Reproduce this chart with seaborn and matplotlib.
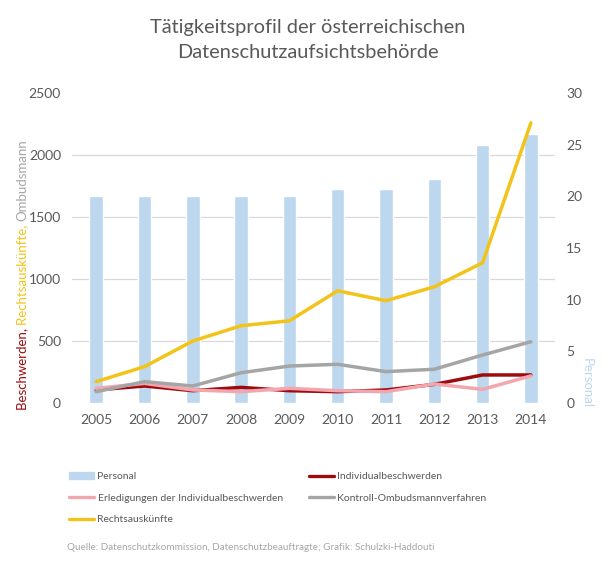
import numpy as np
import pandas as pd
import matplotlib
matplotlib.use("Agg")
import matplotlib.pyplot as plt
import seaborn as sns
from matplotlib.patches import Patch
from matplotlib.lines import Line2D

years = ["2005", "2006", "2007", "2008", "2009", "2010", "2011", "2012", "2013", "2014"]
personal = [20, 20, 20, 20, 20, 20.7, 20.7, 21.7, 25, 26]
individualbeschwerden = [105, 137, 99, 126, 99, 91, 105, 150, 226, 226]
erledigungen = [118, 158, 105, 91, 118, 99, 91, 153, 110, 218]
kontroll = [91, 172, 137, 244, 298, 312, 253, 272, 387, 494]
rechtsauskuenfte = [172, 293, 500, 623, 663, 905, 825, 937, 1131, 2259]

series_names = ["Individualbeschwerden", "Erledigungen der Individualbeschwerden",
                "Kontroll-Ombudsmannverfahren", "Rechtsauskünfte"]
series_colors = ["#9E0B0F", "#F4A6AE", "#A5A5A5", "#F2C318"]

sns.set_theme(style="white")
plt.rcParams['font.family'] = ['Lato', 'DejaVu Sans']

txt = "#595959"
fig = plt.figure(figsize=(6.16, 5.64), dpi=100)
ax = fig.add_axes([0.117, 0.2855, 0.784, 0.5495])
ax2 = ax.twinx()

# bars on the right axis, behind the lines
bars = pd.DataFrame({"Jahr": years, "Personal": personal})
sns.barplot(data=bars, x="Jahr", y="Personal", color="#BDD7EE", width=0.28,
            saturation=1, ax=ax2)
ax2.set_ylim(0, 30)
ax2.set_yticks(range(0, 31, 5))
ax2.set_yticks(np.linspace(0, 30, 6), minor=True)
ax2.grid(which="minor", axis="y", color="#D9D9D9", linewidth=0.9)
ax2.grid(which="major", visible=False)
ax2.set_axisbelow(True)
ax2.tick_params(which="both", length=0, labelsize=10, labelcolor=txt, pad=8)
ax2.set_ylabel("")
ax2.set_xlabel("")

lines = pd.DataFrame({"Jahr": years * 4,
                      "Wert": individualbeschwerden + erledigungen + kontroll + rechtsauskuenfte,
                      "Reihe": np.repeat(series_names, len(years))})
ax.set_zorder(ax2.get_zorder() + 1)
ax.patch.set_visible(False)
sns.lineplot(data=lines, x="Jahr", y="Wert", hue="Reihe", hue_order=series_names,
             palette=series_colors, linewidth=2.5, ax=ax, legend=False, sort=False)
ax.set_ylim(0, 2500)
ax.set_yticks(range(0, 2501, 500))
ax.set_xlim(-0.5, len(years) - 0.5)
ax.grid(False)
ax.tick_params(length=0, labelsize=10, labelcolor=txt, pad=8)
ax.set_xlabel("")
ax.set_ylabel("")
for a in (ax, ax2):
    for s in a.spines.values():
        s.set_visible(False)

# multicoloured left axis label, built bottom to top
fig.canvas.draw()
r = fig.canvas.get_renderer()
y0 = 564 - 410
for part, col in [("Beschwerden, ", "#9E0B0F"), ("Rechtsauskünfte, ", "#F2C318"),
                  ("Ombudsmann", "#A5A5A5")]:
    t = fig.text(22 / 616, y0 / 564, part, rotation=90, color=col, fontsize=9.5,
                 ha="left", va="center", rotation_mode="anchor")
    bb = t.get_window_extent(r)
    y0 += bb.height
fig.text(587 / 616, 1 - 358 / 564, "Personal", rotation=270, color="#BDD7EE",
         fontsize=9.5, ha="center", va="top")

fig.text(0.5, 1 - 27 / 564, "Tätigkeitsprofil der österreichischen", ha="center",
         va="center", fontsize=14.4, color=txt)
fig.text(0.5, 1 - 53 / 564, "Datenschutzaufsichtsbehörde", ha="center",
         va="center", fontsize=14.4, color=txt)

h = {"Personal": Patch(color="#BDD7EE")}
for n, c in zip(series_names, series_colors):
    h[n] = Line2D([], [], color=c, linewidth=2.4)
order = ["Personal", "Erledigungen der Individualbeschwerden", "Rechtsauskünfte",
         "Individualbeschwerden", "Kontroll-Ombudsmannverfahren"]
leg = fig.legend([h[k] for k in order], order, loc="upper left",
                 bbox_to_anchor=(60 / 616, 1 - 463 / 564), ncol=2, frameon=False,
                 fontsize=7.5, handlelength=2.4, handleheight=0.6, handletextpad=0.3,
                 columnspacing=2.5, labelspacing=1.2)
for t in leg.get_texts():
    t.set_color(txt)

fig.text(67 / 616, 1 - 547 / 564,
         "Quelle: Datenschutzkommission, Datenschutzbeauftragte; Grafik: Schulzki-Haddouti",
         fontsize=7.1, color="#A6A6A6", va="center")

fig.savefig("out.png", dpi=100)
